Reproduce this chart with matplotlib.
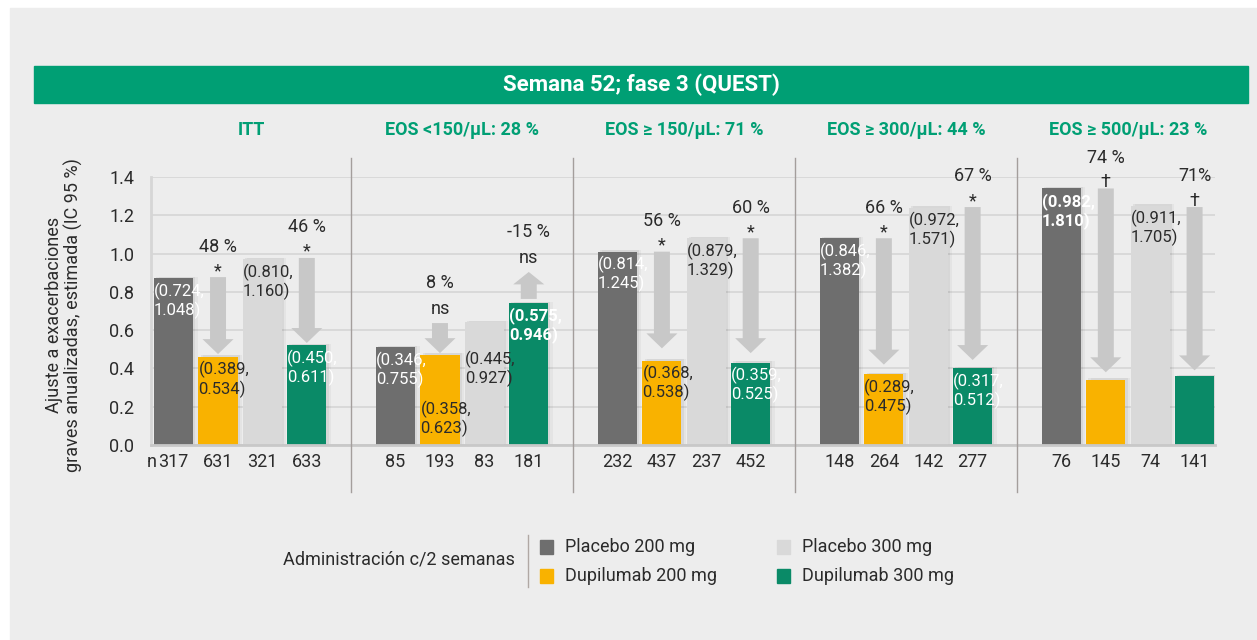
"""QUEST fase 3: exacerbaciones graves anualizadas por subgrupo de eosinófilos."""

import matplotlib

matplotlib.use("Agg")
import matplotlib.pyplot as plt
from matplotlib.patches import FancyArrow, Rectangle

FONT = ["Roboto", "DejaVu Sans"]
plt.rcParams["font.family"] = FONT

# --- datos -----------------------------------------------------------------
groups = ["ITT", "EOS <150/µL: 28 %", "EOS ≥ 150/µL: 71 %",
          "EOS ≥ 300/µL: 44 %", "EOS ≥ 500/µL: 23 %"]
series = ["Placebo 200 mg", "Dupilumab 200 mg", "Placebo 300 mg", "Dupilumab 300 mg"]

placebo_200 = [0.87, 0.51, 1.01, 1.08, 1.34]
dupilumab_200 = [0.46, 0.47, 0.44, 0.37, 0.34]
placebo_300 = [0.97, 0.64, 1.08, 1.24, 1.25]
dupilumab_300 = [0.52, 0.74, 0.43, 0.40, 0.36]

n_placebo_200 = [317, 85, 232, 148, 76]
n_dupilumab_200 = [631, 193, 437, 264, 145]
n_placebo_300 = [321, 83, 237, 142, 74]
n_dupilumab_300 = [633, 181, 452, 277, 141]

ci_placebo_200 = [(0.724, 1.048), (0.346, 0.755), (0.814, 1.245), (0.846, 1.382), (0.982, 1.810)]
ci_dupilumab_200 = [(0.389, 0.534), (0.358, 0.623), (0.368, 0.538), (0.289, 0.475), None]
ci_placebo_300 = [(0.810, 1.160), (0.445, 0.927), (0.879, 1.329), (0.972, 1.571), (0.911, 1.705)]
ci_dupilumab_300 = [(0.450, 0.611), (0.575, 0.946), (0.359, 0.525), (0.317, 0.512), None]

reduction_200 = ["48 %", "8 %", "56 %", "66 %", "74 %"]
signif_200 = ["*", "ns", "*", "*", "†"]
reduction_300 = ["46 %", "-15 %", "60 %", "67 %", "71%"]
signif_300 = ["*", "ns", "*", "*", "†"]

# extremos de las flechas
arrow_start_200 = [0.877, 0.637, 1.01, 1.08, 1.34]
arrow_end_200 = [0.475, 0.48, 0.505, 0.42, 0.38]
arrow_start_300 = [0.977, 0.763, 1.08, 1.243, 1.243]
arrow_end_300 = [0.533, 0.904, 0.48, 0.444, 0.39]

yticks = [0.0, 0.2, 0.4, 0.6, 0.8, 1.0, 1.2, 1.4]

# --- estilo ----------------------------------------------------------------
colors = ["#6e6e6e", "#f9b200", "#d9d9d9", "#0a8a67"]
ci_text_colors = ["white", "#2b2b2b", "#2b2b2b", "white"]
GREEN = "#009f74"
BG = "#ededed"
ARROW = "#c8c8c8"
TXT = "#2b2b2b"

W, H = 1257, 640
fig = plt.figure(figsize=(W / 100, H / 100), dpi=100, facecolor="white")
fig.patches.append(Rectangle((10 / W, 0), 1, 1 - 8 / H, transform=fig.transFigure,
                             color=BG, zorder=-10))
fig.patches.append(Rectangle((34 / W, 1 - 103 / H), (1248 - 34) / W, 37 / H,
                             transform=fig.transFigure, color=GREEN, zorder=-5))
fig.text(641 / W, 1 - 85 / H, "Semana 52; fase 3 (QUEST)", color="white",
         fontsize=16, fontweight="bold", ha="center", va="center")

ax = fig.add_axes([151 / W, 1 - 445 / H, (1215 - 151) / W, 268 / H])
ax.set_facecolor(BG)
ax.set_xlim(-0.51, 23.46)
ax.set_ylim(0, 1.4)
ax.set_yticks(yticks)
ax.set_yticklabels([f"{v:.1f}" for v in yticks], fontsize=13, color=TXT)
ax.tick_params(axis="y", length=0, pad=12)
ax.set_xticks([])
ax.grid(axis="y", color="#d6d6d6", linewidth=1.2, zorder=0)
ax.set_axisbelow(True)
for s in ("top", "right"):
    ax.spines[s].set_visible(False)
ax.spines["left"].set_color("#d6d6d6")
ax.spines["left"].set_linewidth(2)
ax.spines["bottom"].set_color("#c8c8c8")
ax.spines["bottom"].set_linewidth(2)

fig.text(64 / W, 1 - 315 / H,
         "Ajuste a exacerbaciones\ngraves anualizadas, estimada (IC 95 %)",
         rotation=90, ha="center", va="center", fontsize=13, color=TXT,
         linespacing=1.05)

values = [placebo_200, dupilumab_200, placebo_300, dupilumab_300]
counts = [n_placebo_200, n_dupilumab_200, n_placebo_300, n_dupilumab_300]
cis = [ci_placebo_200, ci_dupilumab_200, ci_placebo_300, ci_dupilumab_300]
comparisons = [
    (1, arrow_start_200, arrow_end_200, reduction_200, signif_200),
    (3, arrow_start_300, arrow_end_300, reduction_300, signif_300),
]
GROUP_STEP = 5
BAR_W = 0.88

# desplazamientos especiales de etiquetas IC (en puntos)
ci_offset = {(1, 1): -30, (1, 2): -17}
bold_ci = {(1, 3), (4, 0)}

for g, name in enumerate(groups):
    base = g * GROUP_STEP
    for i in range(4):
        x = base + i
        v = values[i][g]
        for dx, a in ((0.05, 0.06), (0.1, 0.035)):
            ax.bar(x + dx, v + 0.008, width=BAR_W, color="black", alpha=a,
                   zorder=1, linewidth=0)
        ax.bar(x, v, width=BAR_W, color=colors[i], zorder=2, linewidth=0)
        ax.annotate(str(counts[i][g]), (x, 0), xytext=(0, -12),
                    textcoords="offset points", ha="center", va="center",
                    fontsize=13, color=TXT, annotation_clip=False)
        ci = cis[i][g]
        if ci is not None:
            ax.annotate(f"({ci[0]:.3f},\n{ci[1]:.3f})", (x - BAR_W / 2, v),
                        xytext=(0, -3 + ci_offset.get((g, i), 0)),
                        textcoords="offset points", ha="left", va="top",
                        fontsize=12, color=ci_text_colors[i], linespacing=1.15,
                        fontweight="bold" if (g, i) in bold_ci else "normal",
                        zorder=5, annotation_clip=False)
    if g > 0:
        ax.plot([base - 1, base - 1], [-0.245, 1.50], color="#a49e9c",
                linewidth=1, clip_on=False, zorder=3)

    for i, starts, ends, reds, sigs in comparisons:
        x = base + i
        y0, y1 = starts[g], ends[g]
        head = 0.078 if y1 < y0 else 0.065
        ax.add_patch(FancyArrow(x, y0, 0, y1 - y0, width=0.36, head_width=0.70,
                                head_length=head, length_includes_head=True,
                                color=ARROW, linewidth=0, zorder=4))
        top = max(y0, y1)
        sig = sigs[g]
        if sig == "ns":
            ax.annotate(sig, (x, top), xytext=(0, 10), textcoords="offset points",
                        ha="center", va="center", fontsize=13, color=TXT,
                        annotation_clip=False)
            pct_off = 29
        else:
            ax.annotate(sig, (x, top), xytext=(0, -2), textcoords="offset points",
                        ha="center", va="bottom", fontsize=13, color=TXT,
                        annotation_clip=False)
            pct_off = 22
        ax.annotate(reds[g], (x, top), xytext=(0, pct_off),
                    textcoords="offset points", ha="center", va="center",
                    fontsize=13, color=TXT, annotation_clip=False)

    title_x = base + 1.5 if g > 0 else (-0.51 + base + 4) / 2
    ax.text(title_x, 1.645, name, ha="center", va="center", fontsize=13,
            fontweight="bold", color=GREEN, clip_on=False)

ax.annotate("n", (-0.39, 0), xytext=(0, -12), textcoords="offset points",
            ha="right", va="center", fontsize=13, color=TXT, annotation_clip=False)

# --- leyenda ---------------------------------------------------------------
fig.text(515 / W, 1 - 559 / H, "Administración c/2 semanas", ha="right", va="center",
         fontsize=13, color=TXT)
fig.add_artist(plt.Line2D([528 / W, 528 / W], [1 - 587 / H, 1 - 535 / H],
                          color="#b0a8a4", linewidth=1))
legend_pos = [(540, 547), (540, 576), (777, 547), (777, 576)]
for (px, py), lab, c in zip(legend_pos, series, colors):
    fig.patches.append(Rectangle((px / W, 1 - (py + 7) / H), 13 / W, 14 / H,
                                 transform=fig.transFigure, color=c))
    fig.text((px + 25) / W, 1 - py / H, lab, ha="left", va="center",
             fontsize=13, color=TXT)

fig.savefig("out.png", dpi=100, facecolor=fig.get_facecolor())
